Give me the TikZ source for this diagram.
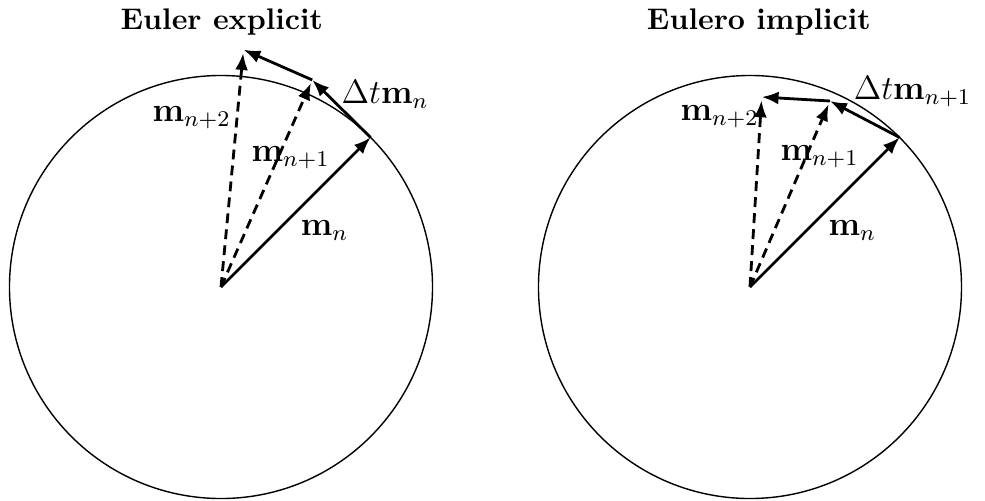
\documentclass[tikz,border=0pt]{standalone}
\usepackage{amsmath}
\usetikzlibrary{arrows.meta, calc}
\begin{document}
\begin{tikzpicture}[
  vec/.style={->, line width=1pt},
  dvec/.style={->, line width=1pt, dash pattern=on 3.5pt off 2.2pt, shorten >=1.2pt},
  lbl/.style={inner sep=0pt, anchor=base west, font=\large},
  ttl/.style={inner sep=0pt, anchor=base, font=\fontsize{10.6}{12}\selectfont\bfseries},
  >={Latex[length=6pt, width=4.6pt]}]
  \useasboundingbox (0,0) rectangle (12.3125,6.25);
  % explicit
  \coordinate (oe) at (2.7625,2.6625);
  \draw[line width=0.5pt] (oe) circle (2.644);
  \coordinate (e0) at ($(oe)+(45:2.644)$);
  \coordinate (e1) at ($(oe)+(1.141,2.588)$);
  \coordinate (e2) at ($(oe)+(0.281,2.966)$);
  \draw[dvec] (oe) -- (e1);
  \draw[dvec] (oe) -- (e2);
  \draw[vec] (oe) -- (e0);
  \draw[vec] (e0) -- (e1);
  \draw[vec] (e1) -- (e2);
  \node[ttl] (te) at ($(oe)+(0.01,3.22)$) {Euler explicit};
  \node[lbl] (en0) at ($(oe)+(0.99,0.65)$) {$\mathbf{m}_n$};
  \node[lbl] (en1) at ($(oe)+(0.375,1.575)$) {$\mathbf{m}_{n+1}$};
  \node[lbl] (en2) at ($(oe)+(-0.8625,2.075)$) {$\mathbf{m}_{n+2}$};
  \node[lbl] (edt) at ($(oe)+(1.5,2.29)$) {$\Delta t\mathbf{m}_n$};
  % implicit
  \coordinate (oi) at (9.375,2.6625);
  \draw[line width=0.5pt] (oi) circle (2.644);
  \coordinate (i0) at ($(oi)+(45:2.644)$);
  \coordinate (i1) at ($(oi)+(1.0,2.325)$);
  \coordinate (i2) at ($(oi)+(0.146,2.375)$);
  \draw[dvec] (oi) -- (i1);
  \draw[dvec] (oi) -- (i2);
  \draw[vec] (oi) -- (i0);
  \draw[vec] (i0) -- (i1);
  \draw[vec] (i1) -- (i2);
  \node[ttl] (ti) at ($(oi)+(0.11,3.22)$) {Eulero implicit};
  \node[lbl] (in0) at ($(oi)+(0.975,0.65)$) {$\mathbf{m}_n$};
  \node[lbl] (in1) at ($(oi)+(0.375,1.5875)$) {$\mathbf{m}_{n+1}$};
  \node[lbl] (in2) at ($(oi)+(-0.875,2.0875)$) {$\mathbf{m}_{n+2}$};
  \node[lbl] (idt) at ($(oi)+(1.29,2.34)$) {$\Delta t\mathbf{m}_{n+1}$};
\end{tikzpicture}
\end{document}
